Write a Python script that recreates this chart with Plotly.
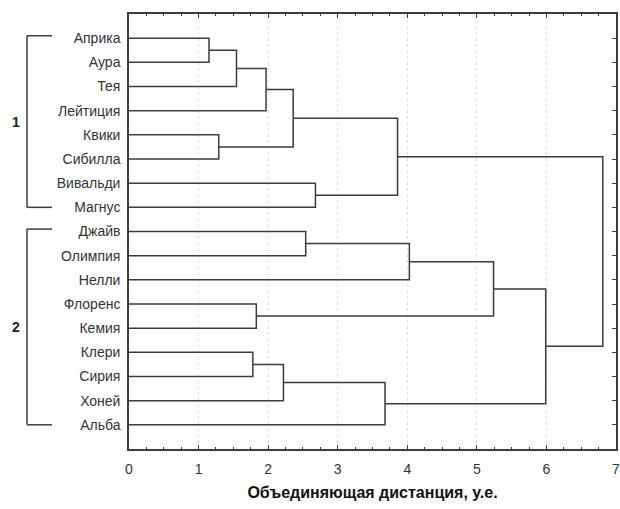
import plotly.graph_objects as go

# ---- data ----
leaves = ["Априка", "Аура", "Тея", "Лейтиция", "Квики", "Сибилла", "Вивальди", "Магнус",
          "Джайв", "Олимпия", "Нелли", "Флоренс", "Кемия", "Клери", "Сирия", "Хоней", "Альба"]
# linkage: children (leaf name or "m<idx>") and joining distance
merge_a = ["Априка", "m0", "m1", "Квики", "m2", "Вивальди", "m4", "Джайв", "m7", "Флоренс",
           "m8", "Клери", "m11", "m12", "m10", "m6"]
merge_b = ["Аура", "Тея", "Лейтиция", "Сибилла", "m3", "Магнус", "m5", "Олимпия", "Нелли",
           "Кемия", "m9", "Сирия", "Хоней", "Альба", "m13", "m14"]
merge_h = [1.15, 1.545, 1.97, 1.29, 2.36, 2.68, 3.86, 2.54, 4.03, 1.83,
           5.24, 1.78, 2.22, 3.68, 5.99, 6.81]
group_labels = ["1", "2"]
group_first = ["Априка", "Джайв"]
group_last = ["Магнус", "Альба"]
x_ticks = [0, 1, 2, 3, 4, 5, 6, 7]
x_title = "Объединяющая дистанция, у.е."

# ---- layout of tree ----
leaf_y = {name: i + 1 for i, name in enumerate(leaves)}
node_y = {}
node_h = {}
def ypos(n):
    return leaf_y[n] if n in leaf_y else node_y[n]
def hpos(n):
    return 0.0 if n in leaf_y else node_h[n]

xs, ys = [], []
for i, (a, b, h) in enumerate(zip(merge_a, merge_b, merge_h)):
    ya, yb = ypos(a), ypos(b)
    xs += [hpos(a), h, h, hpos(b), None]
    ys += [ya, ya, yb, yb, None]
    node_y["m%d" % i] = (ya + yb) / 2
    node_h["m%d" % i] = h

line_col = "#3c3c3c"
fig = go.Figure()
fig.add_trace(go.Scatter(x=xs, y=ys, mode="lines", line=dict(color=line_col, width=1.5),
                         hoverinfo="skip", showlegend=False))
fig.add_trace(go.Scatter(x=[None], y=[None], yaxis="y2", showlegend=False, hoverinfo="skip"))

font = "Liberation Sans, Arial, sans-serif"
W, H = 620, 509
ml, mr, mt, mb = 129, 4, 14, 60
pw = W - ml - mr

def px2paper(px):
    return (px - ml) / pw

shapes = []
annotations = []
for lab, f, l in zip(group_labels, group_first, group_last):
    y0 = leaf_y[f] - 0.1
    y1 = leaf_y[l]
    xv, xe = px2paper(27), px2paper(52)
    for seg in [(xe, y0, xv, y0), (xv, y0, xv, y1), (xv, y1, xe, y1)]:
        shapes.append(dict(type="line", xref="paper", yref="y", x0=seg[0], y0=seg[1],
                           x1=seg[2], y1=seg[3], line=dict(color=line_col, width=1.5)))
    annotations.append(dict(xref="paper", yref="y", x=px2paper(16), y=(y0 + y1) / 2,
                            xanchor="center", yanchor="middle",
                            text="<b>%s</b>" % lab, showarrow=False,
                            font=dict(size=14, color="#222", family=font)))

fig.update_layout(
    width=W, height=H, margin=dict(l=ml, r=mr, t=mt, b=mb),
    plot_bgcolor="white", paper_bgcolor="white",
    shapes=shapes, annotations=annotations,
    xaxis=dict(range=[0, 7], tickvals=x_ticks, ticks="inside", ticklen=4, tickcolor=line_col,
               minor=dict(dtick=0.25, ticks="inside", ticklen=2, tickcolor=line_col, showgrid=False),
               showline=True, linecolor=line_col, linewidth=1.5, mirror="ticks",
               showgrid=True, gridcolor="#e2e2e2", griddash="dot", gridwidth=1,
               zeroline=False, automargin=False, ticklabeloverflow="allow",
               ticklabelstandoff=6,
               tickfont=dict(size=14, color="#333", family=font),
               title=dict(text="<b>%s</b>" % x_title, font=dict(size=16, color="#111", family=font),
                          standoff=11)),
    yaxis=dict(range=[18, 0], tickvals=list(range(1, len(leaves) + 1)), ticktext=leaves,
               ticks="", showline=True, linecolor=line_col, linewidth=1.5, mirror=True,
               showgrid=False, zeroline=False, ticklabelstandoff=4, automargin=False,
               tickfont=dict(size=14, color="#333", family=font)),
    yaxis2=dict(range=[18, 0], overlaying="y", side="right", tickvals=list(range(1, len(leaves) + 1)),
                ticks="inside", ticklen=4, tickcolor=line_col, showticklabels=False,
                showgrid=False, zeroline=False, showline=False, automargin=False),
)
fig.write_html("out.html", config={"displayModeBar": False},
               post_script="document.body.style.margin='0px';document.body.style.overflow='hidden';")
